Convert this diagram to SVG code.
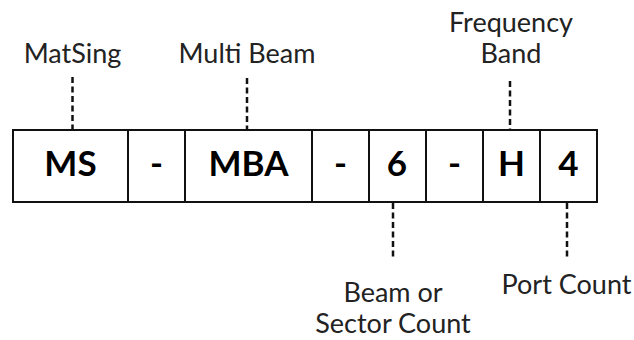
<svg xmlns="http://www.w3.org/2000/svg" width="634" height="340" viewBox="0 0 634 340">
<style>
.cell{fill:#fff;stroke:#111;stroke-width:2}
.code{font-family:Lato,"Open Sans","Liberation Sans",sans-serif;font-weight:bold;font-size:35px;fill:#000;text-anchor:middle}
.lbl{font-family:Lato,"Open Sans","Liberation Sans",sans-serif;font-size:27px;fill:#222;text-anchor:middle}
.dash{stroke:#111;stroke-width:2.5;stroke-dasharray:6 3.5;fill:none}
</style>
<rect width="634" height="340" fill="#fff"/>
<g id="connectors">
<line class="dash" x1="72.5" y1="77" x2="72.5" y2="129"/>
<line class="dash" x1="247" y1="78" x2="247" y2="129"/>
<line class="dash" x1="510" y1="81" x2="510" y2="129"/>
<line class="dash" x1="393" y1="203" x2="393" y2="260"/>
<line class="dash" x1="567" y1="203" x2="567" y2="259"/>
</g>
<g id="cell-ms"><rect class="cell" x="13" y="130" width="115" height="72"/><text class="code" x="70.5" y="176">MS</text></g>
<g id="cell-dash1"><rect class="cell" x="128" y="130" width="57" height="72"/><text class="code" x="156.5" y="176">-</text></g>
<g id="cell-mba"><rect class="cell" x="185" y="130" width="127" height="72"/><text class="code" x="248.5" y="176">MBA</text></g>
<g id="cell-dash2"><rect class="cell" x="312" y="130" width="57" height="72"/><text class="code" x="340.5" y="176">-</text></g>
<g id="cell-6"><rect class="cell" x="369" y="130" width="57" height="72"/><text class="code" x="397" y="176">6</text></g>
<g id="cell-dash3"><rect class="cell" x="426" y="130" width="57" height="72"/><text class="code" x="454.5" y="176">-</text></g>
<g id="cell-h"><rect class="cell" x="483" y="130" width="57" height="72"/><text class="code" x="511.5" y="176">H</text></g>
<g id="cell-4"><rect class="cell" x="540" y="130" width="57" height="72"/><text class="code" x="568.5" y="176">4</text></g>
<g id="label-matsing"><text class="lbl" x="72.5" y="63">MatSing</text></g>
<g id="label-multibeam"><text class="lbl" x="247" y="63">Multi Beam</text></g>
<g id="label-frequency"><text class="lbl" x="511" y="32">Frequency</text><text class="lbl" x="511" y="63">Band</text></g>
<g id="label-beam"><text class="lbl" x="393" y="302">Beam or</text><text class="lbl" x="393" y="333">Sector Count</text></g>
<g id="label-port"><text class="lbl" x="566.5" y="294">Port Count</text></g>
</svg>
